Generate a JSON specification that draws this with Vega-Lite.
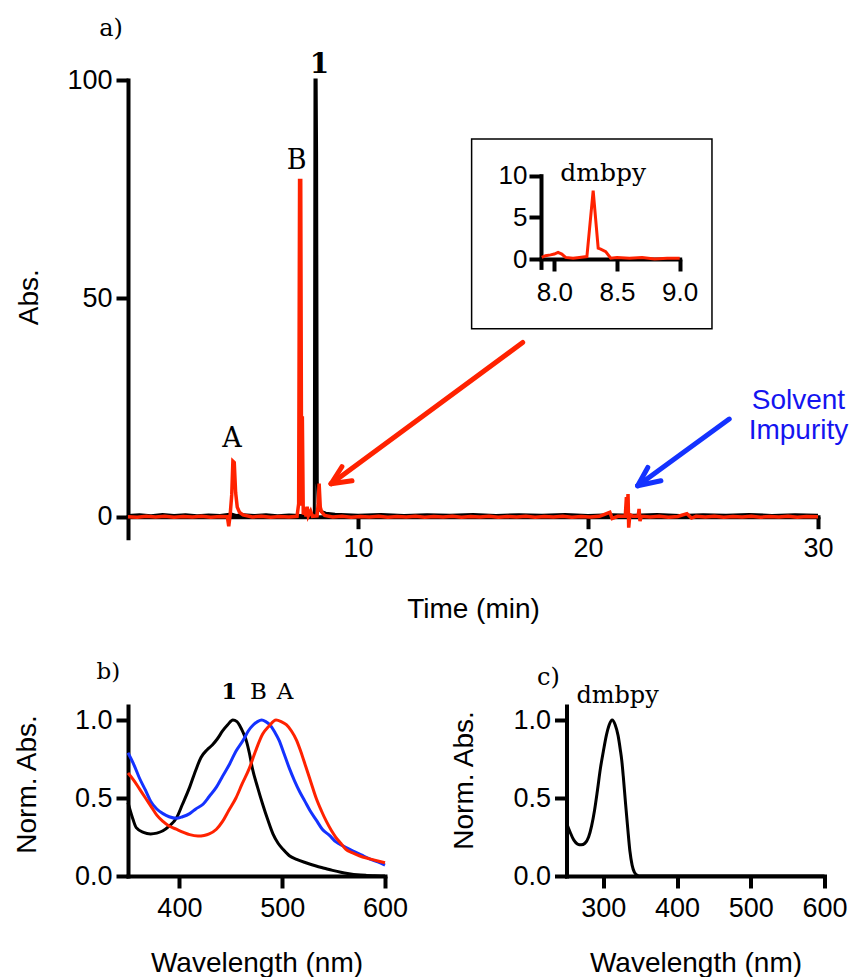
{
  "$schema": "https://vega.github.io/schema/vega-lite/v6.json",
  "background": "white",
  "padding": {"left": 13, "top": 16, "right": 5, "bottom": 5},
  "config": {
    "view": {"stroke": null},
    "axis": {"grid": false, "domainColor": "black", "domainWidth": 4, "domainCap": "square", "tickColor": "black", "tickWidth": 4, "tickSize": 12, "labelFont": "Liberation Sans", "labelFontSize": 27, "labelColor": "black", "labelFlush": false, "labelOverlap": false, "titleFont": "Liberation Sans", "titleFontSize": 28, "titleFontWeight": "normal", "titleColor": "black", "titleAlign": "center", "titleBaseline": "alphabetic"},
    "axisX": {"labelPadding": 7, "titleAngle": 0},
    "axisY": {"labelPadding": 4, "titleAngle": -90},
    "text": {"font": "DejaVu Serif", "color": "black", "align": "center", "baseline": "alphabetic"}
  },
  "datasets": {
    "chromBlack": [
      {"t":0,"a":0.3},{"t":0.5,"a":0.45},{"t":1,"a":0.25},{"t":1.5,"a":0.5},{"t":2,"a":0.3},{"t":2.5,"a":0.45},{"t":3,"a":0.25},{"t":3.5,"a":0.4},{"t":4,"a":0.3},{"t":4.5,"a":0.6},{"t":4.7,"a":0.3},{"t":5,"a":0.45},{"t":5.5,"a":0.3},{"t":6,"a":0.45},{"t":6.5,"a":0.25},{"t":7,"a":0.4},{"t":7.5,"a":0.3},{"t":8.0,"a":0.45},{"t":8.1,"a":0.35},{"t":8.13,"a":100},{"t":8.18,"a":100},{"t":8.2,"a":83},{"t":8.23,"a":8},{"t":8.28,"a":2},{"t":8.4,"a":1.2},{"t":8.6,"a":0.8},{"t":9,"a":0.55},{"t":9.5,"a":0.45},{"t":10,"a":0.35},{"t":11,"a":0.5},{"t":12,"a":0.3},{"t":13,"a":0.45},{"t":14,"a":0.35},{"t":15,"a":0.5},{"t":16,"a":0.3},{"t":17,"a":0.45},{"t":18,"a":0.35},{"t":19,"a":0.5},{"t":20,"a":0.3},{"t":21,"a":0.45},{"t":22,"a":0.35},{"t":23,"a":0.5},{"t":24,"a":0.3},{"t":25,"a":0.45},{"t":26,"a":0.35},{"t":27,"a":0.5},{"t":28,"a":0.3},{"t":29,"a":0.45},{"t":30,"a":0.35}
    ],
    "chromRed": [
      {"t":0,"a":0},{"t":0.4,"a":-0.1},{"t":0.8,"a":0.1},{"t":1.2,"a":-0.05},{"t":1.6,"a":0.1},{"t":2.0,"a":-0.1},{"t":2.4,"a":0.05},{"t":2.8,"a":-0.05},{"t":3.2,"a":0.1},{"t":3.6,"a":-0.1},{"t":4.0,"a":0.05},{"t":4.32,"a":0.0},{"t":4.38,"a":-2.2},{"t":4.44,"a":0.3},{"t":4.51,"a":5},{"t":4.56,"a":12.7},{"t":4.62,"a":12.4},{"t":4.68,"a":5.5},{"t":4.75,"a":2.2},{"t":4.85,"a":1.0},{"t":5.0,"a":0.4},{"t":5.4,"a":-0.05},{"t":5.8,"a":0.1},{"t":6.2,"a":-0.1},{"t":6.6,"a":0.05},{"t":7.0,"a":-0.05},{"t":7.35,"a":0.1},{"t":7.42,"a":3},{"t":7.46,"a":77},{"t":7.51,"a":77},{"t":7.55,"a":2.5},{"t":7.58,"a":23},{"t":7.62,"a":0.5},{"t":7.68,"a":1.2},{"t":7.74,"a":0.1},{"t":7.79,"a":2.3},{"t":7.84,"a":0.2},{"t":7.94,"a":1.3},{"t":8.02,"a":0.1},{"t":8.22,"a":0.2},{"t":8.27,"a":3},{"t":8.31,"a":7.6},{"t":8.36,"a":2.2},{"t":8.42,"a":1.1},{"t":8.55,"a":0.3},{"t":8.9,"a":-0.05},{"t":9.3,"a":0.1},{"t":9.7,"a":-0.1},{"t":10.1,"a":0.05},{"t":10.5,"a":-0.05},{"t":10.9,"a":0.1},{"t":11.3,"a":-0.1},{"t":11.7,"a":0.05},{"t":12.1,"a":-0.05},{"t":12.5,"a":0.1},{"t":12.9,"a":-0.1},{"t":13.3,"a":0.05},{"t":13.7,"a":-0.05},{"t":14.1,"a":0.1},{"t":14.5,"a":-0.1},{"t":14.9,"a":0.05},{"t":15.3,"a":-0.05},{"t":15.7,"a":0.1},{"t":16.1,"a":-0.1},{"t":16.5,"a":0.05},{"t":16.9,"a":-0.05},{"t":17.3,"a":0.1},{"t":17.7,"a":-0.1},{"t":18.1,"a":0.05},{"t":18.5,"a":-0.05},{"t":18.9,"a":0.1},{"t":19.3,"a":-0.1},{"t":19.7,"a":0.05},{"t":20.1,"a":-0.05},{"t":20.5,"a":0.1},{"t":20.95,"a":1.0},{"t":21.05,"a":-0.4},{"t":21.3,"a":0.1},{"t":21.62,"a":0.1},{"t":21.67,"a":4.5},{"t":21.71,"a":1.5},{"t":21.74,"a":5.2},{"t":21.77,"a":-2.5},{"t":21.82,"a":0.5},{"t":21.95,"a":0.1},{"t":22.18,"a":0.1},{"t":22.22,"a":1.8},{"t":22.26,"a":-1.0},{"t":22.32,"a":0.1},{"t":22.7,"a":-0.05},{"t":23.1,"a":0.1},{"t":23.5,"a":-0.1},{"t":23.9,"a":0.05},{"t":24.3,"a":0.7},{"t":24.5,"a":-0.3},{"t":24.7,"a":0.1},{"t":25.1,"a":-0.05},{"t":25.5,"a":0.1},{"t":25.9,"a":-0.1},{"t":26.3,"a":0.05},{"t":26.7,"a":-0.05},{"t":27.1,"a":0.1},{"t":27.5,"a":-0.1},{"t":27.9,"a":0.05},{"t":28.3,"a":-0.05},{"t":28.7,"a":0.1},{"t":29.1,"a":-0.1},{"t":29.5,"a":0.05},{"t":30,"a":0.0}
    ],
    "inset": [
      {"t":7.9,"a":0.2},{"t":7.93,"a":0.4},{"t":7.97,"a":0.5},{"t":8.0,"a":0.6},{"t":8.03,"a":0.8},{"t":8.06,"a":0.6},{"t":8.09,"a":0.2},{"t":8.15,"a":0.1},{"t":8.2,"a":0.2},{"t":8.26,"a":0.3},{"t":8.31,"a":8.2},{"t":8.35,"a":1.3},{"t":8.37,"a":1.2},{"t":8.41,"a":0.9},{"t":8.45,"a":0.1},{"t":8.5,"a":0.2},{"t":8.6,"a":0.1},{"t":8.7,"a":0.2},{"t":8.8,"a":0.0},{"t":8.9,"a":0.1},{"t":9.0,"a":0.1}
    ],
    "box": [{"t":14.94,"a":86.48,"t2":25.39,"a2":43.05}],
    "arrows": [
      {"target":"dmbpy","t":17.16,"a":39.9,"t2":8.83,"a2":7.56},
      {"target":"dmbpy","t":9.74,"a":8.24,"t2":8.83,"a2":7.56},
      {"target":"dmbpy","t":9.30,"a":11.45,"t2":8.83,"a2":7.56},
      {"target":"impurity","t":26.14,"a":22.37,"t2":22.16,"a2":7.10},
      {"target":"impurity","t":23.17,"a":8.24,"t2":22.16,"a2":7.10},
      {"target":"impurity","t":22.6,"a":11.29,"t2":22.16,"a2":7.10}
    ],
    "peakLabels": [{"t":7.33,"a":79.7,"label":"B"},{"t":4.52,"a":16.0,"label":"A"}],
    "panelA": [{"t":-0.74,"a":110.1,"label":"a)"}],
    "boldOne": [{"t":8.33,"a":101.7,"label":"1"}],
    "solvent": [{"t":29.15,"a":24.7,"label":"Solvent"},{"t":29.15,"a":17.9,"label":"Impurity"}],
    "insetLabel": [{"t":8.39,"a":9.4,"label":"dmbpy"}],
    "specB": [
      {"species":"1","nm":350,"v":0.47},{"species":"1","nm":355,"v":0.36},{"species":"1","nm":358,"v":0.31},{"species":"1","nm":365,"v":0.28},{"species":"1","nm":372,"v":0.27},{"species":"1","nm":378,"v":0.275},{"species":"1","nm":384,"v":0.29},{"species":"1","nm":390,"v":0.32},{"species":"1","nm":397,"v":0.37},{"species":"1","nm":403,"v":0.46},{"species":"1","nm":410,"v":0.57},{"species":"1","nm":416,"v":0.68},{"species":"1","nm":421,"v":0.76},{"species":"1","nm":427,"v":0.81},{"species":"1","nm":432,"v":0.84},{"species":"1","nm":437,"v":0.88},{"species":"1","nm":442,"v":0.93},{"species":"1","nm":447,"v":0.97},{"species":"1","nm":452,"v":1.0},{"species":"1","nm":456,"v":0.99},{"species":"1","nm":459,"v":0.96},{"species":"1","nm":462,"v":0.92},{"species":"1","nm":465,"v":0.87},{"species":"1","nm":468,"v":0.79},{"species":"1","nm":471,"v":0.69},{"species":"1","nm":476,"v":0.57},{"species":"1","nm":481,"v":0.46},{"species":"1","nm":486,"v":0.36},{"species":"1","nm":491,"v":0.27},{"species":"1","nm":496,"v":0.21},{"species":"1","nm":501,"v":0.17},{"species":"1","nm":507,"v":0.13},{"species":"1","nm":514,"v":0.107},{"species":"1","nm":523,"v":0.085},{"species":"1","nm":533,"v":0.064},{"species":"1","nm":541,"v":0.05},{"species":"1","nm":549,"v":0.036},{"species":"1","nm":557,"v":0.024},{"species":"1","nm":565,"v":0.015},{"species":"1","nm":573,"v":0.008},{"species":"1","nm":582,"v":0.004},{"species":"1","nm":590,"v":0.002},{"species":"1","nm":600,"v":0.0},
      {"species":"B","nm":350,"v":0.79},{"species":"B","nm":356,"v":0.71},{"species":"B","nm":361,"v":0.63},{"species":"B","nm":367,"v":0.55},{"species":"B","nm":372,"v":0.48},{"species":"B","nm":378,"v":0.43},{"species":"B","nm":384,"v":0.40},{"species":"B","nm":390,"v":0.38},{"species":"B","nm":397,"v":0.37},{"species":"B","nm":403,"v":0.38},{"species":"B","nm":410,"v":0.40},{"species":"B","nm":416,"v":0.43},{"species":"B","nm":423,"v":0.46},{"species":"B","nm":429,"v":0.51},{"species":"B","nm":436,"v":0.57},{"species":"B","nm":442,"v":0.64},{"species":"B","nm":449,"v":0.72},{"species":"B","nm":455,"v":0.80},{"species":"B","nm":462,"v":0.87},{"species":"B","nm":467,"v":0.93},{"species":"B","nm":472,"v":0.97},{"species":"B","nm":476,"v":0.99},{"species":"B","nm":480,"v":1.0},{"species":"B","nm":484,"v":0.99},{"species":"B","nm":488,"v":0.97},{"species":"B","nm":493,"v":0.92},{"species":"B","nm":497,"v":0.87},{"species":"B","nm":502,"v":0.78},{"species":"B","nm":507,"v":0.69},{"species":"B","nm":512,"v":0.61},{"species":"B","nm":517,"v":0.54},{"species":"B","nm":522,"v":0.48},{"species":"B","nm":527,"v":0.42},{"species":"B","nm":533,"v":0.36},{"species":"B","nm":539,"v":0.30},{"species":"B","nm":546,"v":0.26},{"species":"B","nm":552,"v":0.22},{"species":"B","nm":560,"v":0.19},{"species":"B","nm":569,"v":0.16},{"species":"B","nm":577,"v":0.135},{"species":"B","nm":585,"v":0.11},{"species":"B","nm":593,"v":0.09},{"species":"B","nm":600,"v":0.07},
      {"species":"A","nm":350,"v":0.66},{"species":"A","nm":356,"v":0.61},{"species":"A","nm":361,"v":0.56},{"species":"A","nm":367,"v":0.50},{"species":"A","nm":373,"v":0.44},{"species":"A","nm":378,"v":0.39},{"species":"A","nm":384,"v":0.35},{"species":"A","nm":390,"v":0.32},{"species":"A","nm":397,"v":0.30},{"species":"A","nm":404,"v":0.28},{"species":"A","nm":410,"v":0.265},{"species":"A","nm":418,"v":0.256},{"species":"A","nm":424,"v":0.26},{"species":"A","nm":429,"v":0.27},{"species":"A","nm":436,"v":0.30},{"species":"A","nm":442,"v":0.35},{"species":"A","nm":448,"v":0.42},{"species":"A","nm":455,"v":0.50},{"species":"A","nm":461,"v":0.59},{"species":"A","nm":468,"v":0.69},{"species":"A","nm":474,"v":0.80},{"species":"A","nm":481,"v":0.91},{"species":"A","nm":487,"v":0.96},{"species":"A","nm":494,"v":1.0},{"species":"A","nm":499,"v":0.99},{"species":"A","nm":504,"v":0.97},{"species":"A","nm":509,"v":0.93},{"species":"A","nm":514,"v":0.87},{"species":"A","nm":518,"v":0.80},{"species":"A","nm":523,"v":0.70},{"species":"A","nm":528,"v":0.60},{"species":"A","nm":533,"v":0.50},{"species":"A","nm":538,"v":0.42},{"species":"A","nm":543,"v":0.35},{"species":"A","nm":548,"v":0.29},{"species":"A","nm":552,"v":0.25},{"species":"A","nm":557,"v":0.21},{"species":"A","nm":562,"v":0.17},{"species":"A","nm":568,"v":0.15},{"species":"A","nm":575,"v":0.13},{"species":"A","nm":582,"v":0.115},{"species":"A","nm":588,"v":0.105},{"species":"A","nm":594,"v":0.095},{"species":"A","nm":600,"v":0.085}
    ],
    "specBLabels": [{"nm":330.9,"v":1.261,"label":"b)"},{"nm":477,"v":1.133,"label":"B"},{"nm":502.9,"v":1.133,"label":"A"}],
    "specBOne": [{"nm":448.6,"v":1.133,"label":"1"}],
    "specC": [
      {"nm":250,"v":0.34},{"nm":255,"v":0.28},{"nm":260,"v":0.23},{"nm":265,"v":0.205},{"nm":270,"v":0.2},{"nm":275,"v":0.21},{"nm":280,"v":0.25},{"nm":284,"v":0.32},{"nm":288,"v":0.42},{"nm":292,"v":0.55},{"nm":296,"v":0.69},{"nm":300,"v":0.80},{"nm":304,"v":0.90},{"nm":308,"v":0.97},{"nm":312,"v":1.0},{"nm":316,"v":0.97},{"nm":320,"v":0.90},{"nm":323,"v":0.81},{"nm":325,"v":0.74},{"nm":327,"v":0.64},{"nm":330,"v":0.47},{"nm":333,"v":0.31},{"nm":336,"v":0.16},{"nm":339,"v":0.07},{"nm":342,"v":0.025},{"nm":346,"v":0.005},{"nm":350,"v":0.0},{"nm":400,"v":0.0},{"nm":500,"v":0.0},{"nm":600,"v":0.0}
    ],
    "specCLabels": [{"nm":225.6,"v":1.223,"label":"c)"},{"nm":319.3,"v":1.107,"label":"dmbpy"}]
  },
  "bounds": "flush",
  "spacing": 168,
  "resolve": {"scale": {"color": "independent"}},
  "vconcat": [
    {
      "width": 690,
      "height": 457.7,
      "resolve": {"scale": {"x": "independent", "y": "independent"}, "axis": {"x": "independent", "y": "independent"}},
      "layer": [
        {
          "encoding": {
            "x": {"field": "t", "type": "quantitative", "scale": {"domain": [0, 30], "nice": false, "zero": false}, "axis": {"title": "Time (min)", "orient": "bottom", "values": [10, 20, 30], "offset": -21, "titleX": 345, "titleY": 100.7}},
            "y": {"field": "a", "type": "quantitative", "scale": {"domain": [-4.8, 100], "nice": false, "zero": false}, "axis": {"title": "Abs.", "orient": "left", "values": [0, 50, 100], "titleX": -90.5, "titleY": 216.7}}
          },
          "layer": [
            {"data": {"name": "chromBlack"}, "mark": {"type": "line", "color": "black", "strokeWidth": 3}},
            {"data": {"name": "chromRed"}, "mark": {"type": "line", "color": "#ff2200", "strokeWidth": 3.5}},
            {"data": {"name": "box"}, "mark": {"type": "rect", "fillOpacity": 0, "stroke": "black", "strokeWidth": 1.5}, "encoding": {"x2": {"field": "t2"}, "y2": {"field": "a2"}}},
            {"data": {"name": "arrows"}, "mark": {"type": "rule", "strokeWidth": 5, "strokeCap": "round"}, "encoding": {"x2": {"field": "t2"}, "y2": {"field": "a2"}, "color": {"field": "target", "type": "nominal", "scale": {"domain": ["dmbpy", "impurity"], "range": ["#ff2200", "#1432ff"]}, "legend": null}}},
            {"data": {"name": "peakLabels"}, "mark": {"type": "text", "fontSize": 27}, "encoding": {"text": {"field": "label"}}},
            {"data": {"name": "panelA"}, "mark": {"type": "text", "fontSize": 24}, "encoding": {"text": {"field": "label"}}},
            {"data": {"name": "boldOne"}, "mark": {"type": "text", "fontSize": 28, "fontWeight": "bold"}, "encoding": {"text": {"field": "label"}}},
            {"data": {"name": "solvent"}, "mark": {"type": "text", "font": "Liberation Sans", "fontSize": 28, "color": "#1414f0"}, "encoding": {"text": {"field": "label"}}}
          ]
        },
        {
          "encoding": {
            "x": {"field": "t", "type": "quantitative", "scale": {"domain": [7.894, 9.0], "range": [413, 551.7], "nice": false, "zero": false}, "axis": {"title": null, "orient": "bottom", "values": [8.0, 8.5, 9.0], "format": ".1f", "offset": -278.7, "labelFontSize": 26, "labelPadding": 8}},
            "y": {"field": "a", "type": "quantitative", "scale": {"domain": [-1, 10], "range": [187.4, 95.7], "nice": false, "zero": false}, "axis": {"title": null, "orient": "left", "values": [0, 5, 10], "offset": -413, "labelFontSize": 26, "labelPadding": 2}}
          },
          "layer": [
            {"data": {"name": "inset"}, "mark": {"type": "line", "color": "#ff2200", "strokeWidth": 3}},
            {"data": {"name": "insetLabel"}, "mark": {"type": "text", "fontSize": 25}, "encoding": {"text": {"field": "label"}}}
          ]
        }
      ]
    },
    {
      "bounds": "flush",
      "spacing": 181.5,
      "resolve": {"scale": {"color": "independent"}},
      "hconcat": [
        {
          "width": 257,
          "height": 170,
          "encoding": {
            "x": {"field": "nm", "type": "quantitative", "scale": {"domain": [350, 600], "nice": false, "zero": false}, "axis": {"title": "Wavelength (nm)", "values": [400, 500, 600], "titleX": 128.5, "titleY": 95}},
            "y": {"field": "v", "type": "quantitative", "scale": {"domain": [0, 1.09], "nice": false, "zero": false}, "axis": {"title": "Norm. Abs.", "values": [0, 0.5, 1], "format": ".1f", "titleX": -93, "titleY": 78}}
          },
          "layer": [
            {"data": {"name": "specB"}, "mark": {"type": "line", "strokeWidth": 3, "interpolate": "monotone"}, "encoding": {"color": {"field": "species", "type": "nominal", "scale": {"domain": ["1", "B", "A"], "range": ["black", "#1432ff", "#ff2200"]}, "legend": null}}},
            {"data": {"name": "specBLabels"}, "mark": {"type": "text", "fontSize": 23}, "encoding": {"text": {"field": "label"}}},
            {"data": {"name": "specBOne"}, "mark": {"type": "text", "fontSize": 23, "fontWeight": "bold"}, "encoding": {"text": {"field": "label"}}}
          ]
        },
        {
          "width": 258,
          "height": 170,
          "encoding": {
            "x": {"field": "nm", "type": "quantitative", "scale": {"domain": [250, 600], "nice": false, "zero": false}, "axis": {"title": "Wavelength (nm)", "values": [300, 400, 500, 600], "titleX": 129, "titleY": 95}},
            "y": {"field": "v", "type": "quantitative", "scale": {"domain": [0, 1.09], "nice": false, "zero": false}, "axis": {"title": "Norm. Abs.", "values": [0, 0.5, 1], "format": ".1f", "titleX": -94, "titleY": 74}}
          },
          "layer": [
            {"data": {"name": "specC"}, "mark": {"type": "line", "color": "black", "strokeWidth": 3, "interpolate": "monotone"}},
            {"data": {"name": "specCLabels"}, "mark": {"type": "text", "fontSize": 24}, "encoding": {"text": {"field": "label"}}}
          ]
        }
      ]
    }
  ]
}
